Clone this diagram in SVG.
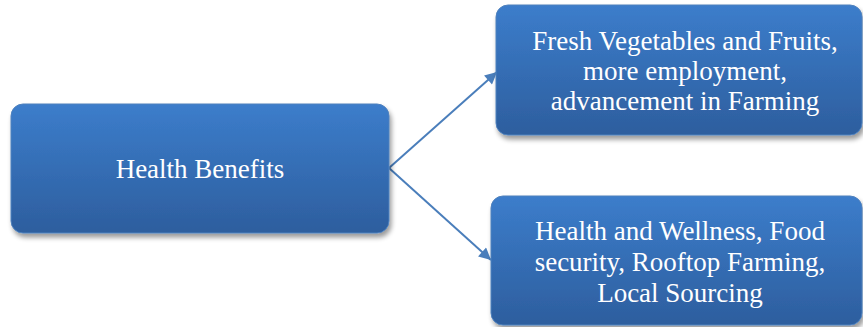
<svg xmlns="http://www.w3.org/2000/svg" width="863" height="327" viewBox="0 0 863 327">
<style>
.box{fill:url(#g);stroke:#4F81BD;stroke-width:1;filter:url(#sh)}
.t{font-family:"Liberation Serif","Times New Roman",serif;font-size:27px;fill:#ffffff;text-anchor:middle}
.c{stroke:#4A7EBB;stroke-width:2;fill:none;marker-end:url(#ah)}
</style>
<defs>
<linearGradient id="g" x1="0" y1="0" x2="0" y2="1">
<stop offset="0" stop-color="#3C7DCB"/>
<stop offset="1" stop-color="#2D5E9E"/>
</linearGradient>
<filter id="sh" x="-10%" y="-10%" width="125%" height="135%">
<feGaussianBlur in="SourceAlpha" stdDeviation="2.5"/>
<feOffset dx="2" dy="4" result="b"/>
<feComponentTransfer><feFuncA type="linear" slope="0.4"/></feComponentTransfer>
<feMerge><feMergeNode/><feMergeNode in="SourceGraphic"/></feMerge>
</filter>
<marker id="ah" viewBox="0 0 10 10" refX="10" refY="5" markerWidth="6.5" markerHeight="6" orient="auto" markerUnits="strokeWidth">
<path d="M0,0 L10,5 L0,10 z" fill="#4A7EBB"/>
</marker>
</defs>
<g id="connectors">
<line class="c" x1="389" y1="168" x2="497" y2="72"/>
<line class="c" x1="389" y1="168" x2="491" y2="260"/>
</g>
<g id="node-health">
<rect class="box" x="11" y="104" width="378" height="129" rx="12"/>
<text class="t" x="200" y="178">Health Benefits</text>
</g>
<g id="node-fresh">
<rect class="box" x="496" y="5" width="366" height="130" rx="12"/>
<text class="t" x="685" y="50">Fresh Vegetables and Fruits,</text>
<text class="t" x="685" y="80">more employment,</text>
<text class="t" x="685" y="110">advancement in Farming</text>
</g>
<g id="node-wellness">
<rect class="box" x="491" y="196" width="371" height="129" rx="12"/>
<text class="t" x="680" y="240">Health and Wellness, Food</text>
<text class="t" x="680" y="271">security, Rooftop Farming,</text>
<text class="t" x="680" y="302">Local Sourcing</text>
</g>
</svg>
